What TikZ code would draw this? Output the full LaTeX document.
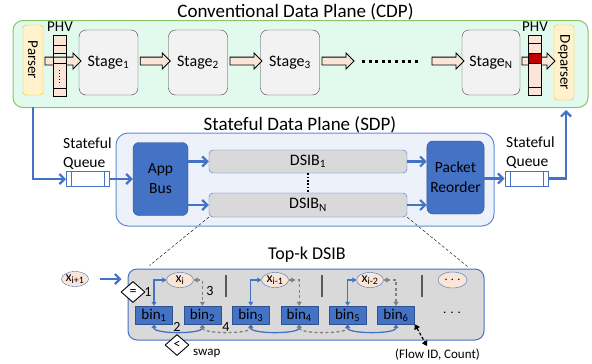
\documentclass[tikz,border=0pt]{standalone}
\usepackage{fontspec}
\setmainfont{Carlito}
\usetikzlibrary{arrows.meta,calc,shapes.geometric,shapes.arrows}
\definecolor{royalblue}{RGB}{68,114,196}
\definecolor{navyedge}{RGB}{47,82,143}
\definecolor{skyedge}{RGB}{100,140,210}
\definecolor{mint}{RGB}{226,250,238}
\definecolor{leafgreen}{RGB}{140,195,100}
\definecolor{cream}{RGB}{255,242,204}
\definecolor{amber}{RGB}{255,192,0}
\definecolor{peach}{RGB}{251,229,214}
\definecolor{crimson}{RGB}{192,0,0}
\definecolor{silver}{RGB}{217,217,217}
\definecolor{cloud}{RGB}{242,242,242}
\definecolor{frost}{RGB}{237,242,250}
\definecolor{slate}{RGB}{128,128,128}

\begin{document}
\begin{tikzpicture}[x=1pt, y=-1pt,
    stagebox/.style={draw=black!75, fill=cloud, rounded corners=7pt, minimum width=59pt, minimum height=65pt,
                     inner sep=0pt, font=\fontsize{16}{19}\selectfont},
    endbox/.style={draw=amber, fill=cream, rounded corners=3pt, rotate=-90, minimum height=20pt,
                   inner sep=0pt, font=\fontsize{15}{18}\selectfont},
    fatarrow/.style={single arrow, draw=black, fill=peach, minimum height=#1, inner xsep=0pt, inner ysep=3.5pt,
                     single arrow head extend=4pt, line width=0.9pt},
    phvcell/.style={draw=black, fill=peach, line width=0.9pt},
    flowline/.style={royalblue, line width=2.2pt, -{Straight Barb[length=5pt,width=10pt]}},
    queue/.style={draw=royalblue, fill=white, line width=1pt, minimum width=43pt, minimum height=15pt,
                  path picture={\draw[royalblue, line width=0.8pt]
                       ([xshift=5pt]path picture bounding box.north west) -- ([xshift=5pt]path picture bounding box.south west)
                       ([xshift=-5pt]path picture bounding box.north east) -- ([xshift=-5pt]path picture bounding box.south east);}},
    label/.style={font=\fontsize{15.5}{19}\selectfont, align=left, inner sep=0pt},
    unitbox/.style={draw=navyedge, fill=royalblue, rounded corners=6pt, minimum width=55pt, minimum height=73pt,
                    align=center, font=\fontsize{15.5}{20}\selectfont},
    dsibbox/.style={draw=royalblue, fill=silver, rounded corners=4pt, minimum width=198pt, minimum height=23pt,
                    font=\fontsize{16}{19}\selectfont},
    bin/.style={draw=navyedge, fill=royalblue, minimum width=37pt, minimum height=18pt, inner sep=0pt,
                font=\fontsize{15}{18}\selectfont},
    keybox/.style={ellipse, draw=royalblue, fill=peach, minimum width=27pt, minimum height=15pt, inner sep=0pt,
                   font=\fontsize{14}{16}\selectfont},
    testbox/.style={diamond, draw=black, fill=white, line width=0.9pt, minimum width=24pt, minimum height=21pt,
                    inner sep=0pt, font=\fontsize{14}{16}\selectfont},
    stepno/.style={font=\fontsize{14}{16}\selectfont, inner sep=0pt},
    bluelink/.style={royalblue, line width=1.3pt, {Triangle[length=4pt,width=5pt]}-{Triangle[length=4pt,width=5pt]}},
    graylink/.style={slate, line width=1.3pt, dash pattern=on 3pt off 2.5pt,
                     {Triangle[length=4pt,width=5pt]}-{Triangle[length=4pt,width=5pt]}}]
\useasboundingbox (0,0) rectangle (592,364);

% Conventional Data Plane
\node[font=\fontsize{19}{22}\selectfont] (cdptitle) at (295.5,12) {Conventional Data Plane (CDP)};
\node[draw=leafgreen, fill=mint, line width=1pt, rounded corners=10pt, minimum width=575pt, minimum height=87pt] (cdp) at (300.5,64) {};
\node[endbox, minimum width=70pt] (parser) at (33,60) {Parser};
\node[endbox, minimum width=75pt] (deparser) at (564,62.5) {Deparser};
\node[stagebox] (s1) at (108.5,62.5) {Stage\textsubscript{1}};
\node[stagebox] (s2) at (198,62.5) {Stage\textsubscript{2}};
\node[stagebox] (s3) at (290,62.5) {Stage\textsubscript{3}};
\node[stagebox, minimum width=58pt] (sN) at (491,62.5) {Stage\textsubscript{N}};
% pipeline arrows
\node[fatarrow=36pt] (a0) at (61,61) {};
\node[fatarrow=30pt] (a1) at ($(s1.east)!0.5!(s2.west)+(0,-1.5)$) {};
\node[fatarrow=32pt] (a2) at ($(s2.east)!0.5!(s3.west)+(0,-1.5)$) {};
\node[fatarrow=32pt] (a3) at (336,61) {};
\node[fatarrow=32pt] (a4) at (446,61) {};
\node[fatarrow=33pt] (a5) at (536.5,61) {};
\coordinate (dotsL) at (362,61);
\coordinate (dotsR) at (420,61);
\draw[line width=3pt, dash pattern=on 3pt off 3.6pt] (dotsL) -- (dotsR);
% PHV in
\node[font=\fontsize{15}{18}\selectfont, inner sep=0pt] (phvin) at (60,27) {PHV};
\foreach \ya/\yb in {35/45, 45/53, 63/88, 88/96}
    \draw[phvcell] (53,\ya) rectangle (66,\yb);
\draw[black, line width=0.9pt] (53,53) -- (53,63) (66,53) -- (66,63);
\draw[line width=1.4pt, dash pattern=on 1.4pt off 1.6pt] (59.5,70) -- (59.5,85);
% PHV out
\node[font=\fontsize{15}{18}\selectfont, inner sep=0pt] (phvout) at (535,27) {PHV};
\foreach \ya/\yb in {35/43, 43/53, 63/87, 87/95}
    \draw[phvcell] (528,\ya) rectangle (541,\yb);
\draw[phvcell, fill=crimson] (528,53) rectangle (541,63);

% Stateful Data Plane
\node[font=\fontsize{19}{22}\selectfont] (sdptitle) at (300,125) {Stateful Data Plane (SDP)};
\node[draw=skyedge, fill=frost, line width=1pt, rounded corners=12pt, minimum width=378pt, minimum height=93pt] (sdp) at (305,179.5) {};
\node[unitbox] (bus) at (160.5,179) {App\\Bus};
\node[unitbox] (reorder) at (455.5,177.5) {Packet\\Reorder};
\node[dsibbox] (d1) at (308,161.5) {DSIB\textsubscript{1}};
\node[dsibbox, minimum height=24pt] (dN) at (308,205) {DSIB\textsubscript{N}};
\draw[line width=1.6pt, dash pattern=on 1.6pt off 1.8pt] (d1.south) -- (dN.north);
\node[queue] (qin) at (88,179) {};
\node[queue] (qout) at (526.5,178.5) {};
\node[label, anchor=south west] (qinlbl) at (63,170) {Stateful\\Queue};
\node[label, anchor=south west] (qoutlbl) at (506,169) {Stateful\\Queue};
\coordinate (tapin) at (33,107);
\coordinate (tapout) at (566,110);
\draw[flowline] (tapin) |- (qin.west);
\draw[flowline] (qin.east) -- (bus.west);
\draw[flowline] (bus.east |- d1.west) -- (d1.west);
\draw[flowline] (bus.east |- dN.west) -- (dN.west);
\draw[flowline] (d1.east) -- (reorder.west |- d1.east);
\draw[flowline] (dN.east) -- (reorder.west |- dN.east);
\draw[flowline] (reorder.east |- qout.west) -- (qout.west);
\draw[flowline] (qout.east) -| (tapout);

% Top-k DSIB
\node[font=\fontsize{18}{21}\selectfont] (topktitle) at (307,255) {Top-k DSIB};
\node[draw=royalblue, fill=silver, line width=1pt, rounded corners=9pt, minimum width=356pt, minimum height=71pt] (topk) at (306,304.5) {};
\draw[densely dashed] (dN.south west) -- ([xshift=22pt,yshift=3pt]topk.north west);
\draw[densely dashed] (dN.south east) -- ([xshift=-17pt,yshift=2pt]topk.north east);
\node[keybox] (xnext) at (75,279) {x\textsubscript{i+1}};
\draw[flowline] ([xshift=11pt]xnext.east) -- ([xshift=-6pt]topk.west |- xnext.east);
\foreach \n [count=\k from 0] in {1,...,6}
    \node[bin] (b\n) at (154+48.4*\k,315) {bin\textsubscript{\n}};
\node[keybox] (x0) at (180,280) {x\textsubscript{i}};
\node[keybox] (x1) at (275,280) {x\textsubscript{i-1}};
\node[keybox] (x2) at (370,280) {x\textsubscript{i-2}};
\node[keybox, minimum width=29pt, minimum height=16pt] (x3) at (452.5,280) {$\cdots$};
\foreach \xs in {226,322,422}
    \draw[black!65, line width=1.4pt] (\xs,275) -- (\xs,297);
% insert and compare
\draw[bluelink] (x0.west) -| (b1.north);
\draw[graylink] (x0.east) -| (b2.north);
\draw[bluelink] (x1.west) -| (b3.north);
\draw[graylink] (x1.east) -| (b4.north);
\draw[bluelink] (x2.west) -| (b5.north);
\draw[graylink] (x2.east) -| (b6.north);
% swaps
\draw[bluelink] (b1.south) .. controls +(0,10) and +(0,10) .. (b2.south);
\draw[graylink] (b2.south) .. controls +(0,10) and +(0,10) .. (b3.south);
\draw[bluelink] (b3.south) .. controls +(0,10) and +(0,10) .. (b4.south);
\draw[graylink] (b4.south) .. controls +(0,10) and +(0,10) .. (b5.south);
\draw[bluelink] (b5.south) .. controls +(0,10) and +(0,10) .. (b6.south);
\node[font=\fontsize{13}{15}\selectfont] (more) at (452,313) {. . .};
\node[testbox] (eq) at (133,292) {=};
\node[testbox] (lt) at (177,345) {<};
\node[stepno] (n1) at (148,292) {1};
\node[stepno] (n3) at (210,291) {3};
\node[stepno] (n2) at (177,327) {2};
\node[stepno] (n4) at (226,327) {4};
\node[font=\fontsize{13}{15}\selectfont, anchor=west, inner sep=0pt] (swap) at (193,353) {swap};
\node[font=\fontsize{13}{15}\selectfont, inner sep=0pt] (flow) at (437.5,355) {(Flow ID, Count)};
\coordinate (flowtip) at (427,346);
\draw[line width=1.2pt, densely dashed, {Triangle[length=5pt,width=6pt]}-{Triangle[length=5pt,width=6pt]}] (b6.south east) -- (flowtip);
\end{tikzpicture}
\end{document}
